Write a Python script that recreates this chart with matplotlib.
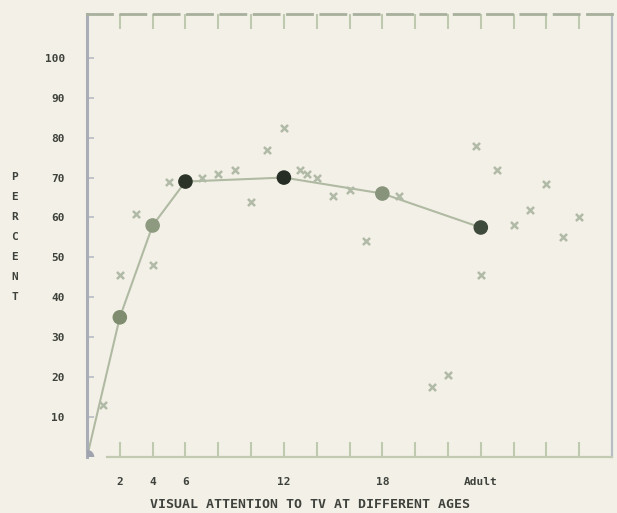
import matplotlib

matplotlib.use("Agg")
import matplotlib.pyplot as plt

# mean attention by age (big dots + connecting line); "Adult" sits at x=24
mean_ages = [0, 2, 4, 6, 12, 18, 24]
mean_pct = [0, 35, 58, 69, 70, 66, 57.5]
dot_colors = ["#9ea3ad", "#7f8c70", "#8d9a7f", "#2b3329", "#262d25", "#87937b", "#3e4a3c"]

# individual observations (small x marks)
obs_ages = [1, 2, 3, 4, 5, 7, 8, 9, 10, 11, 12, 13, 13.4, 14, 15, 16, 17, 19,
            21, 22, 23.7, 24, 25, 26, 27, 28, 29, 30]
obs_pct = [13, 45.5, 61, 48, 69, 70, 71, 72, 64, 77, 82.5, 72, 71, 70, 65.5, 67,
           54, 65.5, 17.5, 20.5, 78, 45.5, 72, 58, 62, 68.5, 55, 60]

tick_pos = list(range(2, 31, 2))
tick_names = {2: "2", 4: "4", 6: "6", 12: "12", 18: "18", 24: "Adult"}
y_ticks = list(range(10, 101, 10))

BG = "#f3f1e7"
TXT = "#3f423c"
FONT = "DejaVu Sans Mono"

fig = plt.figure(figsize=(6.17, 5.13), dpi=100, facecolor=BG)
ax = fig.add_axes([0.141, 0.109, 0.851, 0.864], facecolor=BG)

ax.plot(mean_ages, mean_pct, color="#b0baa3", lw=1.5, zorder=2)
ax.scatter(obs_ages, obs_pct, marker="x", s=26, color="#b0baa6", linewidths=1.8, zorder=3)
ax.scatter(mean_ages, mean_pct, s=90, color=dot_colors, zorder=4)

ax.set_xlim(0, 32)
ax.set_ylim(0, 111)

ax.set_xticks(tick_pos)
ax.set_xticklabels([tick_names.get(t, "") for t in tick_pos])
ax.set_yticks(y_ticks)
ax.tick_params(axis="x", which="both", direction="in", length=11, width=1.5,
               color="#bfc9b0", top=True, labelsize=8, labelcolor=TXT, pad=14)
ax.tick_params(axis="y", direction="in", length=5, width=1.2, color="#b8bcc4",
               labelsize=8, labelcolor=TXT, pad=16)
for lab in ax.get_xticklabels() + ax.get_yticklabels():
    lab.set_family(FONT)
    lab.set_weight("bold")

ax.spines["left"].set_color("#a9adb8")
ax.spines["left"].set_linewidth(2.2)
ax.spines["right"].set_color("#b8bcc3")
ax.spines["right"].set_linewidth(1.6)
ax.spines["top"].set_color("#a7b09c")
ax.spines["top"].set_linewidth(2)
ax.spines["top"].set_linestyle((0, (9, 3)))
ax.spines["bottom"].set_color("#c2cbb2")
ax.spines["bottom"].set_linewidth(1.6)
ax.spines["bottom"].set_bounds(1.2, 32)

for i, ch in enumerate("PERCENT"):
    fig.text(0.024, 1 - (177 + 20 * i) / 513, ch, family=FONT, weight="bold",
             fontsize=8, color=TXT, ha="center", va="center")

fig.text(0.503, 1 - 505 / 513, "VISUAL ATTENTION TO TV AT DIFFERENT AGES",
         family=FONT, weight="bold", fontsize=9.5, color=TXT, ha="center", va="center")

fig.savefig("out.png", dpi=100, facecolor=BG)
